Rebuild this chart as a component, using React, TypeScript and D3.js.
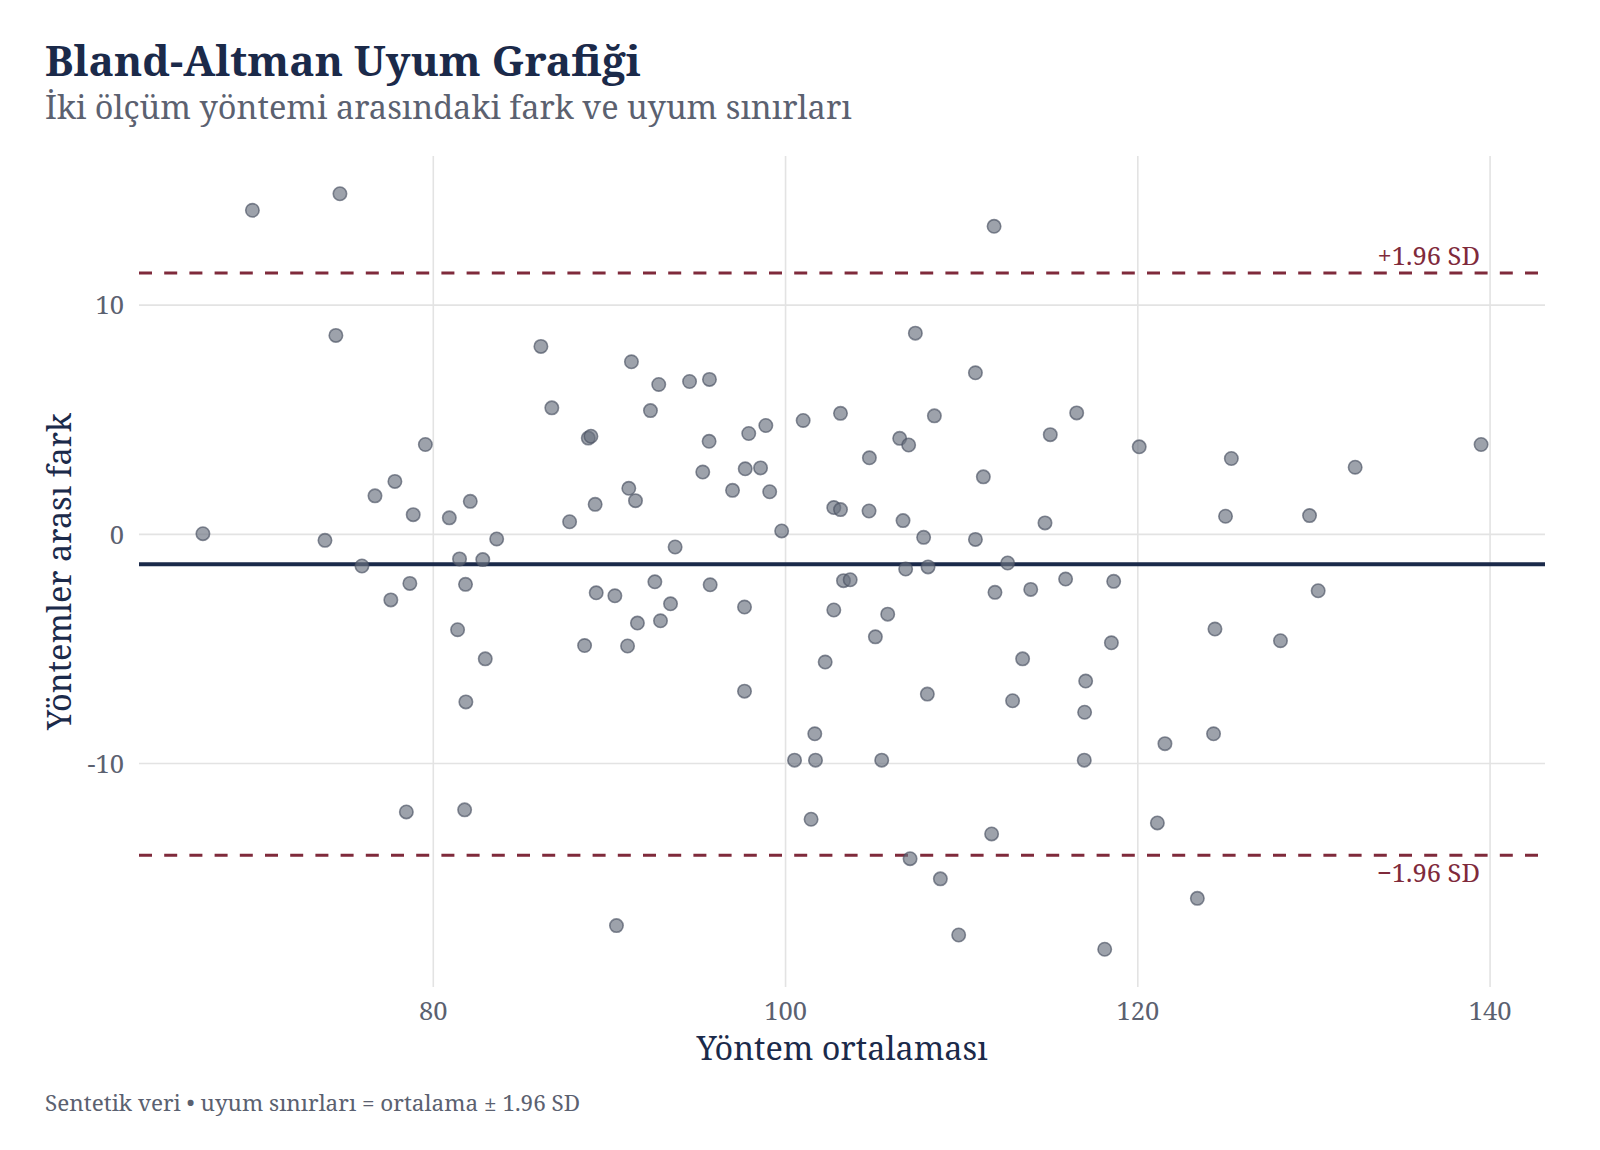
import * as d3 from "d3";

// iki yöntemin ortalaması (x) ve aralarındaki fark (y), nokta sırası aynı
const meanValues = [
  66.92, 69.73, 74.7, 74.47, 73.85, 75.95, 76.69, 77.82, 77.59, 78.67,
  78.86, 79.55, 78.47, 80.91, 81.38, 81.49, 81.83, 82.1, 82.81, 82.95,
  81.85, 81.78, 83.6, 86.11, 86.73, 87.74, 88.59, 88.8, 88.95, 89.25,
  89.19, 90.31, 90.4, 91.03, 91.1, 91.25, 91.48, 91.59, 92.33, 92.58,
  92.8, 92.9, 93.47, 93.73, 94.55, 95.3, 95.68, 95.66, 95.72, 96.99,
  97.67, 97.67, 97.71, 97.91, 98.58, 98.88, 99.1, 99.78, 100.51, 101.0,
  101.66, 101.7, 101.45, 102.25, 102.74, 102.74, 103.12, 103.12, 103.29, 103.67,
  104.74, 104.76, 105.1, 105.46, 105.8, 106.48, 106.67, 106.82, 106.99, 107.07,
  107.37, 107.84, 108.05, 108.09, 108.45, 108.79, 109.83, 110.78, 110.78, 111.23,
  111.84, 111.7, 111.89, 112.61, 112.89, 113.46, 113.92, 114.73, 115.03, 115.9,
  116.53, 117.04, 116.98, 116.96, 118.5, 118.63, 118.12, 120.08, 121.11, 121.54,
  123.38, 124.38, 124.3, 124.98, 125.31, 128.1, 129.75, 130.24, 132.34, 139.49,
];

const diffValues = [
  0.03, 14.14, 14.86, 8.68, -0.26, -1.38, 1.68, 2.31, -2.86, -2.14,
  0.86, 3.92, -12.11, 0.72, -4.16, -1.07, -2.18, 1.44, -1.1, -5.43,
  -7.31, -12.02, -0.2, 8.2, 5.52, 0.55, -4.85, 4.2, 4.28, -2.55,
  1.31, -2.68, -17.07, -4.87, 2.01, 7.53, 1.47, -3.87, 5.4, -2.07,
  6.54, -3.77, -3.03, -0.55, 6.67, 2.72, 6.76, 4.06, -2.2, 1.92,
  -3.17, -6.84, 2.86, 4.4, 2.9, 4.75, 1.86, 0.15, -9.85, 4.97,
  -8.7, -9.85, -12.43, -5.57, 1.17, -3.3, 1.08, 5.28, -2.02, -1.98,
  1.02, 3.34, -4.47, -9.85, -3.48, 4.19, 0.6, -1.51, 3.9, -14.15,
  8.78, -0.13, -6.97, -1.42, 5.17, -15.03, -17.48, 7.05, -0.22, 2.51,
  13.44, -13.07, -2.53, -1.25, -7.26, -5.43, -2.4, 0.5, 4.35, -1.95,
  5.3, -6.4, -7.76, -9.85, -4.73, -2.05, -18.1, 3.82, -12.59, -9.13,
  -15.88, -4.13, -8.7, 0.79, 3.31, -4.64, 0.82, -2.46, 2.93, 3.92,
];

// ortalama fark ve farkların standart sapması
const bias = -1.3;
const sdDiff = 6.48;

const xTicks = [80, 100, 120, 140];
const yTicks = [-10, 0, 10];

const W = 1600;
const H = 1150;
const margin = { top: 156, right: 55, bottom: 163, left: 139 };
const FONT = "'Noto Serif', 'DejaVu Serif', serif";
const NAVY = "#1b2a4a";
const RED = "#7f2a3b";
const GREY = "#5b6170";

// ggplot tarzı %5 genişletme
function padded(vals: number[]): [number, number] {
  const [lo, hi] = d3.extent(vals) as [number, number];
  const pad = (hi - lo) * 0.05;
  return [lo - pad, hi + pad];
}

export default function App() {
  const x = d3
    .scaleLinear()
    .domain(padded(meanValues))
    .range([margin.left, W - margin.right]);
  const y = d3
    .scaleLinear()
    .domain(padded(diffValues))
    .range([H - margin.bottom, margin.top]);

  const points = meanValues.map((m, i) => ({ m, d: diffValues[i] }));
  const upper = bias + 1.96 * sdDiff;
  const lower = bias - 1.96 * sdDiff;
  const [x0, x1] = x.range();
  const [yb, yt] = y.range();

  return (
    <svg
      width={W}
      height={H}
      style={{ position: "absolute", left: 0, top: 0, background: "#fff" }}
      fontFamily={FONT}
    >
      <rect width={W} height={H} fill="#fff" />

      {/* ızgara */}
      {yTicks.map((t) => (
        <line key={"gy" + t} x1={x0} x2={x1} y1={y(t)} y2={y(t)} stroke="#e3e3e3" strokeWidth={1.6} />
      ))}
      {xTicks.map((t) => (
        <line key={"gx" + t} x1={x(t)} x2={x(t)} y1={yb} y2={yt} stroke="#e3e3e3" strokeWidth={1.6} />
      ))}

      {/* uyum sınırları */}
      {[upper, lower].map((v, i) => (
        <line
          key={"loa" + i}
          x1={x0}
          x2={x1}
          y1={y(v)}
          y2={y(v)}
          stroke={RED}
          strokeWidth={3}
          strokeDasharray="13 12.2"
        />
      ))}
      <line x1={x0} x2={x1} y1={y(bias)} y2={y(bias)} stroke={NAVY} strokeWidth={4} />

      {/* noktalar */}
      {points.map((p, i) => (
        <circle
          key={i}
          cx={x(p.m)}
          cy={y(p.d)}
          r={6.7}
          fill="#6b7280"
          fillOpacity={0.66}
          stroke="#4b5263"
          strokeOpacity={0.66}
          strokeWidth={1.6}
        />
      ))}

      <text x={1480} y={y(upper) - 8} textAnchor="end" fontSize={25.5} fill={RED}>
        +1.96 SD
      </text>
      <text x={1480} y={y(lower) + 27} textAnchor="end" fontSize={25.5} fill={RED}>
        −1.96 SD
      </text>

      {/* eksen etiketleri */}
      {xTicks.map((t) => (
        <text key={"tx" + t} x={x(t)} y={1020} textAnchor="middle" fontSize={25.5} fill={GREY}>
          {t}
        </text>
      ))}
      {yTicks.map((t) => (
        <text key={"ty" + t} x={124} y={y(t)} dy="0.36em" textAnchor="end" fontSize={25.5} fill={GREY}>
          {t}
        </text>
      ))}

      <text x={(x0 + x1) / 2} y={1060} textAnchor="middle" fontSize={32.4} fill={NAVY}>
        Yöntem ortalaması
      </text>
      <text
        transform={`translate(71,${(yb + yt) / 2}) rotate(-90)`}
        textAnchor="middle"
        fontSize={32.4}
        fill={NAVY}
      >
        Yöntemler arası fark
      </text>

      <text x={45} y={76} fontSize={42.5} fontWeight="bold" fill={NAVY}>
        Bland-Altman Uyum Grafiği
      </text>
      <text x={45} y={119} fontSize={32.5} fill={GREY}>
        İki ölçüm yöntemi arasındaki fark ve uyum sınırları
      </text>
      <text x={45} y={1111} fontSize={22.5} fill={GREY}>
        Sentetik veri • uyum sınırları = ortalama ± 1.96 SD
      </text>
    </svg>
  );
}
